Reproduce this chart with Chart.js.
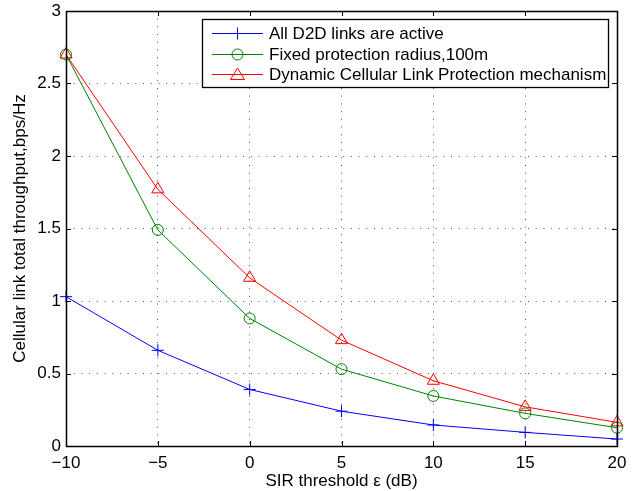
<!DOCTYPE html>
<html>
<head>
<meta charset="utf-8">
<script src="https://cdn.jsdelivr.net/npm/chart.js@4.4.1/dist/chart.umd.min.js"></script>
<style>
  html, body { margin: 0; padding: 0; background: #fff; }
  #wrap { width: 639px; height: 491px; }
</style>
</head>
<body>
<div id="wrap"><canvas id="chart" width="639" height="491"></canvas></div>
<script>
"use strict"

// SIR threshold (dB)
const sirValues = [-10, -5, 0, 5, 10, 15, 20]
const xTicks = [-10, -5, 0, 5, 10, 15, 20]
const yTicks = [0, 0.5, 1, 1.5, 2, 2.5, 3]

const allActive = [1.03, 0.66, 0.39, 0.24, 0.145, 0.094, 0.048]
const fixedRadius = [2.70, 1.49, 0.88, 0.53, 0.345, 0.225, 0.126]
const dynamicProtection = [2.70, 1.77, 1.16, 0.73, 0.45, 0.27, 0.163]

const seriesNames = [
    "All D2D links are active",
    "Fixed protection radius,100m",
    "Dynamic Cellular Link Protection mechanism"
]

const fontName = "'Liberation Sans', Arial, Helvetica, sans-serif"

function toPoints(vals) {
    return vals.map((v, i) => ({ x: sirValues[i], y: v }))
}

// ramme, tick-merker, aksetitler og legend i MATLAB-stil
const matlabFrame = {
    id: "matlabFrame",
    afterDraw(chart) {
        const ctx = chart.ctx
        const a = chart.chartArea
        const xs = chart.scales.x
        const ys = chart.scales.y
        ctx.save()
        ctx.setLineDash([])
        ctx.strokeStyle = "#000"
        ctx.lineWidth = 1
        // tick merker innover
        ctx.beginPath()
        xTicks.forEach(t => {
            const px = Math.round(xs.getPixelForValue(t)) + 0.5
            ctx.moveTo(px, a.bottom); ctx.lineTo(px, a.bottom - 5)
            ctx.moveTo(px, a.top); ctx.lineTo(px, a.top + 5)
        })
        yTicks.forEach(t => {
            const py = Math.round(ys.getPixelForValue(t)) + 0.5
            ctx.moveTo(a.left, py); ctx.lineTo(a.left + 5, py)
            ctx.moveTo(a.right, py); ctx.lineTo(a.right - 5, py)
        })
        ctx.stroke()
        ctx.lineWidth = 1.5
        ctx.strokeRect(Math.round(a.left) + 0.5, Math.round(a.top) + 0.5, Math.round(a.right - a.left), Math.round(a.bottom - a.top))

        // aksetitler
        ctx.fillStyle = "#000"
        ctx.font = "17px " + fontName
        ctx.textAlign = "center"
        ctx.textBaseline = "middle"
        ctx.fillText("SIR threshold \u03b5 (dB)", (a.left + a.right) / 2, 481)
        ctx.save()
        ctx.translate(20, (a.top + a.bottom) / 2)
        ctx.rotate(-Math.PI / 2)
        ctx.fillText("Cellular link total throughput,bps/Hz", 0, 0)
        ctx.restore()

        // legend
        const bx = 202, by = 19, bw = 406, bh = 68
        ctx.fillStyle = "#fff"
        ctx.fillRect(bx, by, bw, bh)
        ctx.strokeStyle = "#000"
        ctx.lineWidth = 1.3
        ctx.strokeRect(bx + 0.5, by + 0.5, bw, bh)
        const rows = [33, 54, 74]
        const colors = ["#0000ff", "#008000", "#ff0000"]
        ctx.textAlign = "left"
        rows.forEach((ry, i) => {
            ctx.strokeStyle = colors[i]
            ctx.lineWidth = 1
            ctx.beginPath()
            ctx.moveTo(212, ry + 0.5); ctx.lineTo(263, ry + 0.5)
            ctx.stroke()
            const cx = 237.5
            ctx.beginPath()
            if (i === 0) {
                ctx.moveTo(cx - 6, ry + 0.5); ctx.lineTo(cx + 6, ry + 0.5)
                ctx.moveTo(cx, ry - 5.5); ctx.lineTo(cx, ry + 6.5)
            } else if (i === 1) {
                ctx.arc(cx, ry + 0.5, 5.5, 0, Math.PI * 2)
            } else {
                ctx.moveTo(cx, ry - 6); ctx.lineTo(cx + 7, ry + 5.5); ctx.lineTo(cx - 7, ry + 5.5); ctx.closePath()
            }
            ctx.stroke()
            ctx.fillStyle = "#000"
            ctx.font = "17px " + fontName
            ctx.fillText(seriesNames[i], 269, ry + 1)
        })
        ctx.restore()
    }
}

const canvas = document.getElementById("chart")

const gridOpts = { drawTicks: false, color: "#555", lineWidth: 1 }

new Chart(canvas, {
    type: "line",
    data: {
        datasets: [
            {
                label: seriesNames[0], data: toPoints(allActive),
                borderColor: "#0000ff", backgroundColor: "rgba(0,0,0,0)",
                borderWidth: 1, pointStyle: "cross", pointRadius: 6, pointBorderWidth: 1,
                pointBorderColor: "#0000ff", tension: 0, clip: false
            },
            {
                label: seriesNames[1], data: toPoints(fixedRadius),
                borderColor: "#008000", backgroundColor: "rgba(0,0,0,0)",
                borderWidth: 1, pointStyle: "circle", pointRadius: 5.5, pointBorderWidth: 1,
                pointBorderColor: "#008000", tension: 0, clip: false
            },
            {
                label: seriesNames[2], data: toPoints(dynamicProtection),
                borderColor: "#ff0000", backgroundColor: "rgba(0,0,0,0)",
                borderWidth: 1, pointStyle: "triangle", pointRadius: 7, pointBorderWidth: 1,
                pointBorderColor: "#ff0000", tension: 0, clip: false
            }
        ]
    },
    options: {
        responsive: false,
        animation: false,
        events: [],
        layout: { padding: { left: 0, top: 11, right: 22, bottom: 0 } },
        plugins: { legend: { display: false }, tooltip: { enabled: false } },
        scales: {
            x: {
                type: "linear", min: -10, max: 20,
                afterBuildTicks: s => { s.ticks = xTicks.map(v => ({ value: v })) },
                afterFit: s => { s.height = 45; s.paddingLeft = 0; s.paddingRight = 0 },
                border: { display: false, dash: [1, 6.7] },
                grid: gridOpts,
                ticks: {
                    color: "#000", padding: 7,
                    font: { size: 17, family: fontName },
                    callback: v => (v < 0 ? "\u2212" + Math.abs(v) : String(v))
                }
            },
            y: {
                type: "linear", min: 0, max: 3,
                afterBuildTicks: s => { s.ticks = yTicks.map(v => ({ value: v })) },
                afterFit: s => { s.width = 66; s.paddingTop = 0; s.paddingBottom = 0 },
                border: { display: false, dash: [1, 6.7] },
                grid: gridOpts,
                ticks: {
                    color: "#000", padding: 5,
                    font: { size: 17, family: fontName },
                    callback: v => String(v)
                }
            }
        }
    },
    plugins: [matlabFrame]
})
</script>
</body>
</html>
